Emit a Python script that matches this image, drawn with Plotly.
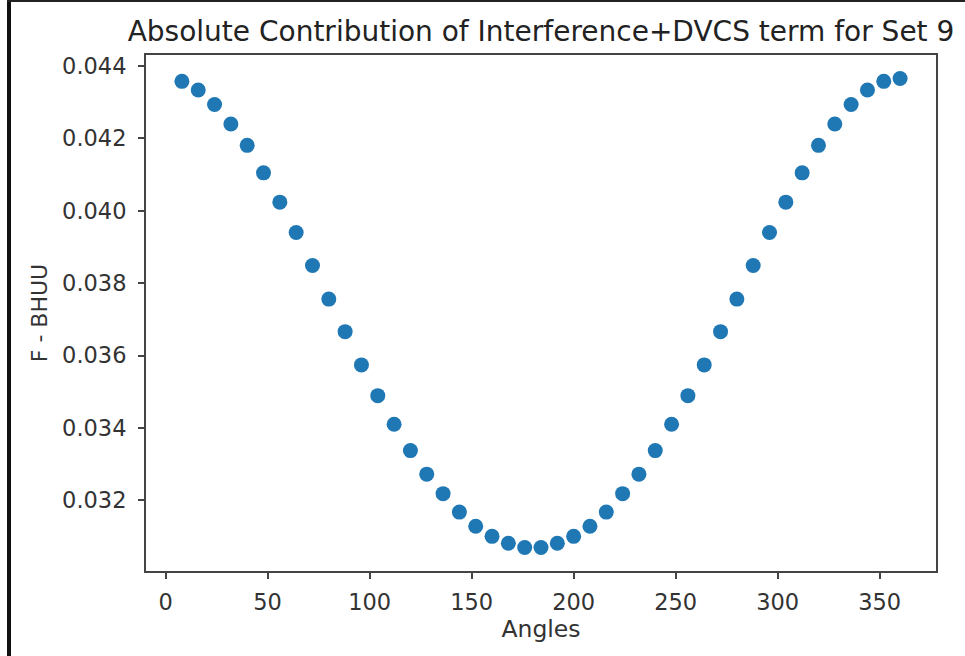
import plotly.graph_objects as go

# Angle grid (degrees) and the F - BHUU values at each angle
angles = [8, 16, 24, 32, 40, 48, 56, 64, 72, 80, 88, 96, 104, 112, 120,
          128, 136, 144, 152, 160, 168, 176, 184, 192, 200, 208, 216, 224,
          232, 240, 248, 256, 264, 272, 280, 288, 296, 304, 312, 320, 328,
          336, 344, 352, 360]
f_bhuu = [0.04358, 0.04334, 0.04294, 0.04240, 0.04181, 0.04105, 0.04024,
          0.03940, 0.03849, 0.03756, 0.03666, 0.03574, 0.03489, 0.03410,
          0.03337, 0.03272, 0.03218, 0.03167, 0.03128, 0.03100, 0.03081,
          0.03069, 0.03069, 0.03081, 0.03100, 0.03128, 0.03167, 0.03218,
          0.03272, 0.03337, 0.03410, 0.03489, 0.03574, 0.03666, 0.03756,
          0.03849, 0.03940, 0.04024, 0.04105, 0.04181, 0.04240, 0.04294,
          0.04334, 0.04358, 0.04366]

x_ticks = [0, 50, 100, 150, 200, 250, 300, 350]
y_ticks = [0.032, 0.034, 0.036, 0.038, 0.040, 0.042, 0.044]

title_text = "Absolute Contribution of Interference+DVCS term for Set 9"
x_label = "Angles"
y_label = "F - BHUU"

W, H = 965, 656
L, R, T, B = 146, 29, 55, 85


def padded(vals, frac=0.05):
    lo, hi = min(vals), max(vals)
    pad = (hi - lo) * frac
    return [lo - pad, hi + pad]


font_family = "DejaVu Sans"
axis_color = "#444444"
text_color = "#333333"

fig = go.Figure(
    go.Scatter(
        x=angles,
        y=f_bhuu,
        mode="markers",
        marker=dict(color="#1f77b4", size=15, line=dict(width=0)),
        showlegend=False,
    )
)

fig.update_layout(
    width=W,
    height=H,
    margin=dict(l=L, r=R, t=T, b=B),
    paper_bgcolor="white",
    plot_bgcolor="white",
    font=dict(family=font_family, color=text_color, size=22),
    title=dict(
        text=title_text,
        x=0.5,
        xref="paper",
        xanchor="center",
        y=1 - 31 / H,
        yref="container",
        yanchor="middle",
        font=dict(size=28, color="#222222", family=font_family),
    ),
    xaxis=dict(
        range=padded(angles),
        tickvals=x_ticks,
        ticktext=[str(v) for v in x_ticks],
        showgrid=False,
        zeroline=False,
        showline=True,
        mirror=True,
        linecolor=axis_color,
        linewidth=2,
        ticks="outside",
        ticklen=6,
        tickwidth=1.5,
        tickcolor=axis_color,
        ticklabelstandoff=4,
        tickfont=dict(size=22.5, color=text_color),
        title=dict(text=x_label, standoff=6,
                   font=dict(size=23.5, color=text_color)),
    ),
    yaxis=dict(
        range=padded(f_bhuu),
        tickvals=y_ticks,
        ticktext=[f"{v:.3f}" for v in y_ticks],
        showgrid=False,
        zeroline=False,
        showline=True,
        mirror=True,
        linecolor=axis_color,
        linewidth=2,
        ticks="outside",
        ticklen=6,
        tickwidth=1.5,
        tickcolor=axis_color,
        ticklabelstandoff=7,
        tickfont=dict(size=22.5, color=text_color),
        title=dict(text=y_label, standoff=8,
                   font=dict(size=22, color=text_color)),
    ),
)

# Dark frame edges along the left and top of the canvas
pw = W - L - R
ph = H - T - B


def px_x(p):
    return (p - L) / pw


def px_y(p):
    return 1 - (p - T) / ph


fig.add_shape(type="rect", xref="paper", yref="paper",
              x0=px_x(7), x1=px_x(11), y0=px_y(H), y1=px_y(0),
              fillcolor="#111111", line=dict(width=0), layer="above")
fig.add_shape(type="rect", xref="paper", yref="paper",
              x0=px_x(7), x1=px_x(W), y0=px_y(2), y1=px_y(0),
              fillcolor="#222222", line=dict(width=0), layer="above")

fig.write_html("out.html")
